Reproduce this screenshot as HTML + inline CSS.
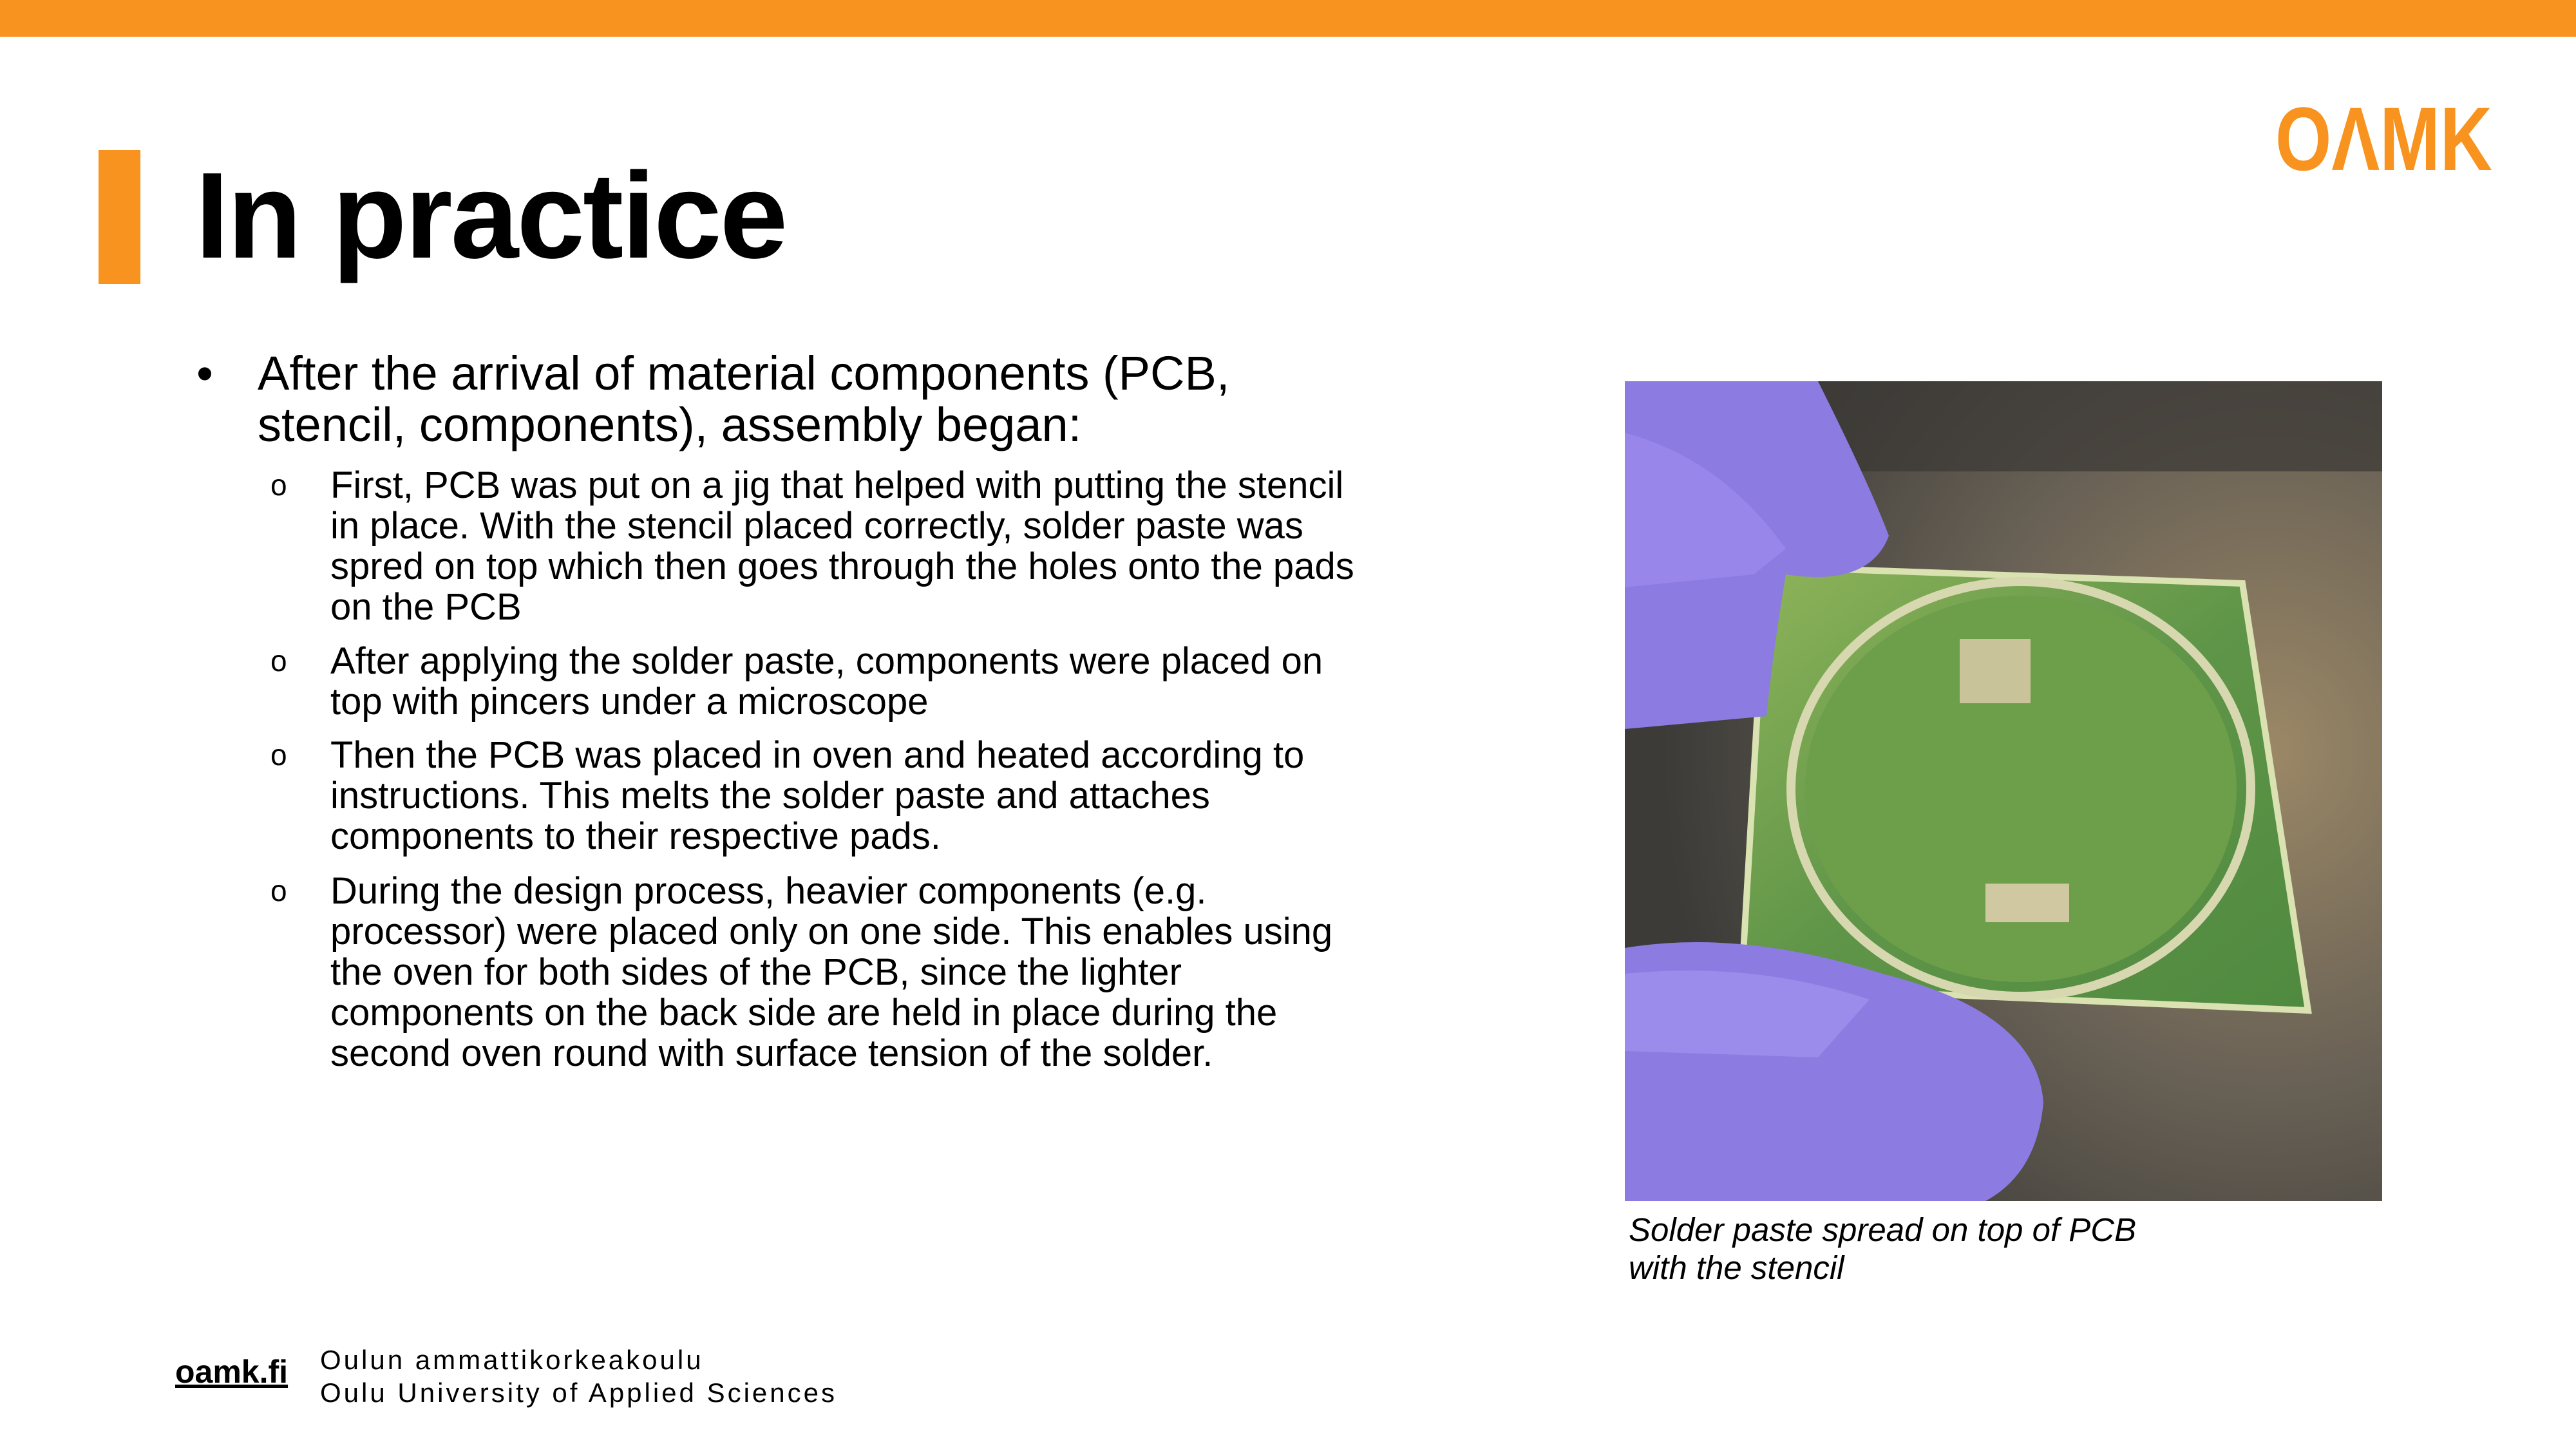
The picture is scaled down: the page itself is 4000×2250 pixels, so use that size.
<!DOCTYPE html>
<html><head><meta charset="utf-8">
<style>
html,body{margin:0;padding:0}
body{width:4000px;height:2250px;position:relative;background:#fff;font-family:"Liberation Sans",Arial,sans-serif;color:#000;overflow:hidden}
.abs{position:absolute}
.sub{position:absolute;left:513px;width:1600px;font-size:58px;line-height:63px}
.sub .mk{position:absolute;left:-93px;top:0;font-size:46px}
</style></head>
<body>
<div class="abs" style="left:0;top:0;width:4000px;height:57px;background:#f7931e"></div>
<div class="abs" style="left:153px;top:233px;width:65px;height:208px;background:#f7931e"></div>
<div class="abs" style="left:303px;top:225px;font-size:190px;font-weight:bold;line-height:220px;letter-spacing:-3px">In practice</div>
<svg class="abs" style="left:3530px;top:150px" width="350" height="130" viewBox="0 0 350 130">
<text x="3" y="114" font-family="Liberation Sans, sans-serif" font-weight="bold" font-size="140" fill="#f7931e" textLength="337" lengthAdjust="spacingAndGlyphs">OΛMK</text>
</svg>

<div class="abs" style="left:400px;top:540px;width:1640px;font-size:74px;line-height:80px">
<span style="position:absolute;left:-95px">•</span>After the arrival of material components (PCB, stencil, components), assembly began:</div>

<div class="sub" style="top:722px"><span class="mk">o</span>First, PCB was put on a jig that helped with putting the stencil in place. With the stencil placed correctly, solder paste was spred on top which then goes through the holes onto the pads on the PCB</div>
<div class="sub" style="top:995px"><span class="mk">o</span>After applying the solder paste, components were placed on top with pincers under a microscope</div>
<div class="sub" style="top:1141px"><span class="mk">o</span>Then the PCB was placed in oven and heated according to instructions. This melts the solder paste and attaches components to their respective pads.</div>
<div class="sub" style="top:1352px"><span class="mk">o</span>During the design process, heavier components (e.g. processor) were placed only on one side. This enables using the oven for both sides of the PCB, since the lighter components on the back side are held in place during the second oven round with surface tension of the solder.</div>

<svg class="abs" style="left:2523px;top:592px" width="1176" height="1273" viewBox="0 0 1176 1273">
<defs>
<radialGradient id="bg" cx="0.85" cy="0.45" r="0.8"><stop offset="0" stop-color="#9b8866"/><stop offset="0.5" stop-color="#6a6256"/><stop offset="1" stop-color="#3c3b38"/></radialGradient>
<linearGradient id="pcb" x1="0" y1="0" x2="1" y2="1"><stop offset="0" stop-color="#8fb45a"/><stop offset="0.5" stop-color="#5f9548"/><stop offset="1" stop-color="#4f8a40"/></linearGradient>
</defs>
<rect width="1176" height="1273" fill="url(#bg)"/>
<rect x="0" y="0" width="1176" height="140" fill="#3a3835" opacity="0.7"/>
<polygon points="219,288 959,314 1061,977 181,939" fill="url(#pcb)"/>
<polygon points="219,288 959,314 1061,977 181,939" fill="none" stroke="#d9e2b0" stroke-width="10"/>
<ellipse cx="615" cy="633" rx="357" ry="322" fill="none" stroke="#d8d8b0" stroke-width="14"/>
<ellipse cx="615" cy="633" rx="335" ry="300" fill="#6d9e4a"/>
<rect x="520" y="400" width="110" height="100" fill="#c9c39a"/>
<rect x="560" y="780" width="130" height="60" fill="#cfc8a0"/>
<path d="M0,0 L300,0 Q380,160 410,240 Q380,320 250,300 Q230,420 220,520 L0,540 Z" fill="#8c7be0"/>
<path d="M0,80 Q150,120 250,260 L200,300 L0,320 Z" fill="#a08ef0" opacity="0.6"/>
<path d="M0,880 Q180,850 400,920 Q640,980 650,1120 Q640,1230 560,1273 L0,1273 Z" fill="#8c7be0"/>
<path d="M0,920 Q200,900 380,960 L300,1050 L0,1040 Z" fill="#a596f2" opacity="0.6"/>
</svg>

<div class="abs" style="left:2529px;top:1880px;font-size:51px;line-height:59px;font-style:italic">Solder paste spread on top of PCB<br>with the stencil</div>

<div class="abs" style="left:272px;top:2100px;font-size:50px;font-weight:bold;text-decoration:underline;line-height:60px">oamk.fi</div>
<div class="abs" style="left:497px;top:2086px;font-size:42px;line-height:51px;letter-spacing:4px">Oulun ammattikorkeakoulu<br>Oulu University of Applied Sciences</div>
</body></html>
